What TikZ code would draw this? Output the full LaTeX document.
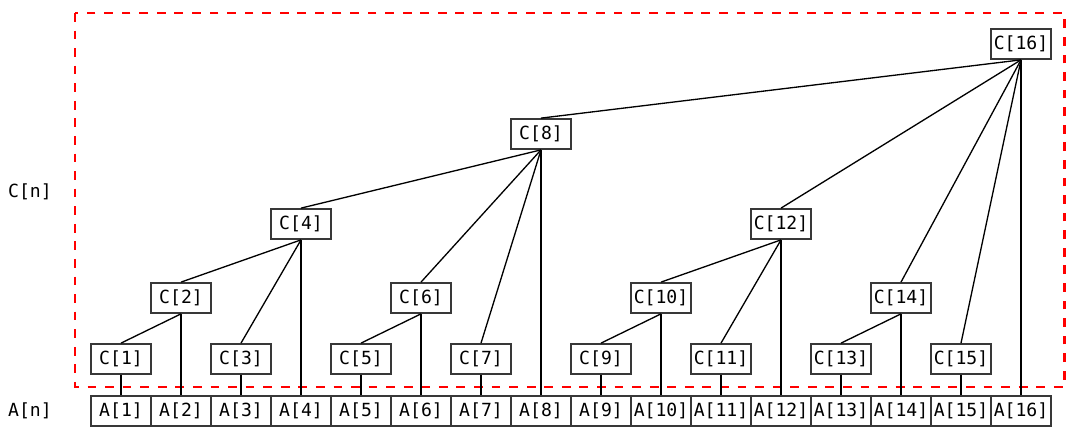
\documentclass[tikz,border=0pt]{standalone}
\usepackage{fontspec}
\setmonofont{DejaVu Sans Mono}
\usepackage{xcolor}
\usepackage{tikz}
\usetikzlibrary{positioning,calc}
\definecolor{boxgray}{HTML}{383838}
\tikzset{cell/.style={rectangle,draw=boxgray,line width=1pt,fill=white,
  minimum width=1.2cm,minimum height=0.6cm,inner sep=1pt,
  font=\ttfamily\fontsize{10.3}{12}\selectfont},
  link/.style={draw=black,line width=0.75pt},
  rowlabel/.style={font=\ttfamily\fontsize{10.3}{12}\selectfont},
  frame/.style={draw=red,line width=1.7pt,dash pattern=on 5pt off 5pt}}

\begin{document}
\begin{tikzpicture}[x=0.02cm,y=-0.02cm]
 \useasboundingbox (0,0) rectangle (1084,439);
 \draw[frame] (75,13) rectangle (1064,387);
 \node[rowlabel] (cn) at (30,192) {C[n]};
 \node[rowlabel] (an) at (30,411) {A[n]};
 % tree array
 \node[cell] (c1) at (121,359) {C[1]};
 \node[cell] (c2) at (181,298) {C[2]};
 \node[cell] (c3) at (241,359) {C[3]};
 \node[cell] (c4) at (301,224) {C[4]};
 \node[cell] (c5) at (361,359) {C[5]};
 \node[cell] (c6) at (421,298) {C[6]};
 \node[cell] (c7) at (481,359) {C[7]};
 \node[cell] (c8) at (541,134) {C[8]};
 \node[cell] (c9) at (601,359) {C[9]};
 \node[cell] (c10) at (661,298) {C[10]};
 \node[cell] (c11) at (721,359) {C[11]};
 \node[cell] (c12) at (781,224) {C[12]};
 \node[cell] (c13) at (841,359) {C[13]};
 \node[cell] (c14) at (901,298) {C[14]};
 \node[cell] (c15) at (961,359) {C[15]};
 \node[cell] (c16) at (1021,44) {C[16]};
 \draw[link] (c16.south)--(c8.north);
 \draw[link] (c16.south)--(c12.north);
 \draw[link] (c16.south)--(c14.north);
 \draw[link] (c16.south)--(c15.north);
 \draw[link] (c8.south)--(c4.north);
 \draw[link] (c8.south)--(c6.north);
 \draw[link] (c8.south)--(c7.north);
 \draw[link] (c4.south)--(c2.north);
 \draw[link] (c4.south)--(c3.north);
 \draw[link] (c12.south)--(c10.north);
 \draw[link] (c12.south)--(c11.north);
 \draw[link] (c2.south)--(c1.north);
 \draw[link] (c6.south)--(c5.north);
 \draw[link] (c10.south)--(c9.north);
 \draw[link] (c14.south)--(c13.north);
 % source array
 \foreach \i in {1,...,16} {
  \node[cell] (a\i) at ({61+60*\i},411) {A[\i]};
  \draw[link] (c\i.south)--(a\i.north);
 }
\end{tikzpicture}
\end{document}
